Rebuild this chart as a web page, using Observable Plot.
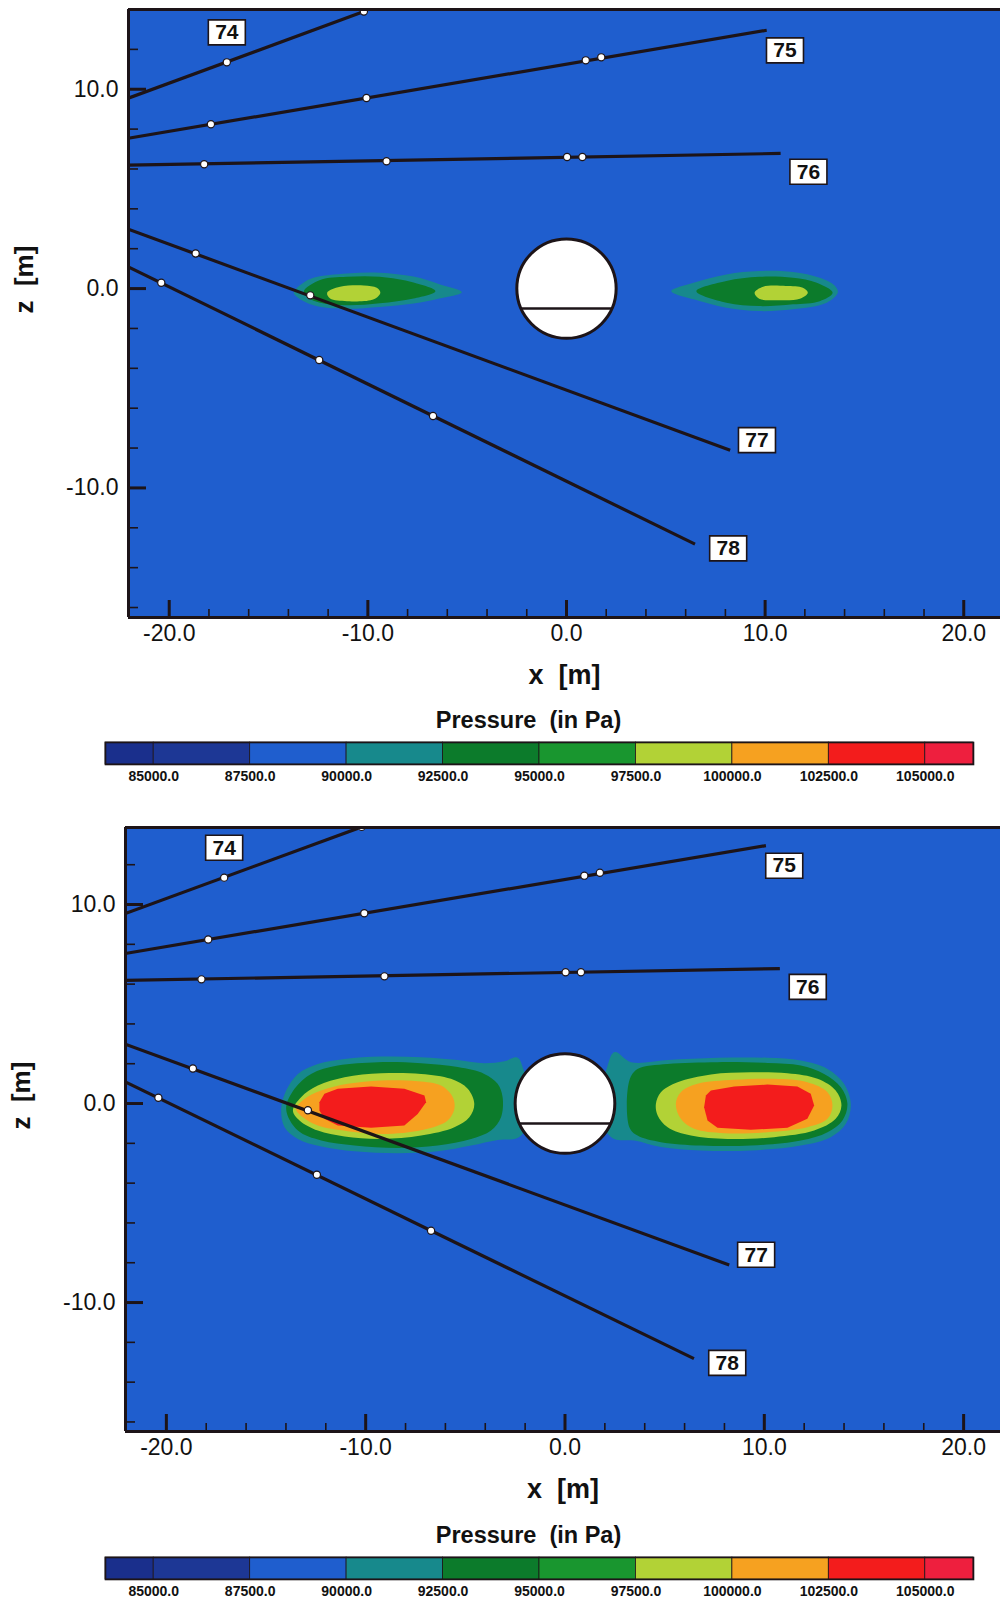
<!DOCTYPE html>
<html>
<head>
<meta charset="utf-8">
<script src="https://cdn.jsdelivr.net/npm/d3@7"></script>
<script src="https://cdn.jsdelivr.net/npm/@observablehq/plot@0.6"></script>
<style>
  html, body { margin: 0; padding: 0; background: #fff; }
  #page { position: relative; width: 1000px; height: 1602px; overflow: hidden; font-family: "Liberation Sans", Arial, sans-serif; }
  #page > div { position: absolute; left: 0; }
  svg { display: block; overflow: visible; }
</style>
</head>
<body>
<div id="page">
  <div id="p1" style="top:0px"></div>
  <div id="cb1" style="top:700px"></div>
  <div id="p2" style="top:818px"></div>
  <div id="cb2" style="top:1515px"></div>
</div>
<script>
// ---- pressure legend -------------------------------------------------------
const pressureLevels = [85000, 87500, 90000, 92500, 95000, 97500, 100000, 102500, 105000];
const levelColors = ["#1a2f8c", "#1d3795", "#1f5ece", "#17898c", "#0c7b2b", "#19962f", "#b2d236", "#f6a120", "#f31c1c", "#ee1f3e"];

// ---- axes (metres) ---------------------------------------------------------
const xDomain = [-22.05, 21.85];
const zDomainTop = [-16.5, 14.0];
const zDomainBottom = [-16.48, 13.87];
const xMajor = [-20, -10, 0, 10, 20];
const xMinor = [-18, -16, -14, -12, -8, -6, -4, -2, 2, 4, 6, 8, 12, 14, 16, 18];
const zMajor = [-10, 0, 10];
const zMinor = [-16, -14, -12, -8, -6, -4, -2, 2, 4, 6, 8, 12];

// ---- tunnel cross-section --------------------------------------------------
const tunnelCentre = [0, 0];
const tunnelRadius = 2.5;
const tunnelFloorZ = -1.0;

// ---- measuring lines 74–78 -------------------------------------------------
const probeIds = ["74", "75", "76", "77", "78"];
const probeX0 = [-22.06, -22.06, -22.06, -22.06, -22.06];
const probeZ0 = [9.55, 7.54, 6.19, 2.98, 1.09];
const probeX1 = [-10.2, 10.08, 10.78, 8.24, 6.47];
const probeZ1 = [13.9, 12.96, 6.78, -8.11, -12.82];
const probeLabelX = [-17.1, 11.0, 12.18, 9.59, 8.14];
const probeLabelZ = [12.85, 11.95, 5.86, -7.6, -13.03];
const gaugePoints = [
  [-17.1, 11.35], [-10.2, 13.9],
  [-17.9, 8.24], [-10.07, 9.56], [0.97, 11.45], [1.75, 11.6],
  [-18.24, 6.24], [-9.06, 6.39], [0.03, 6.6], [0.8, 6.6],
  [-18.67, 1.76], [-12.9, -0.34],
  [-20.4, 0.29], [-12.45, -3.58], [-6.72, -6.39]
];

// ---- pressure regions, upper snapshot --------------------------------------
const topTealL = [[-13.73,-0.21],[-13.3,0.25],[-12.7,0.55],[-11.05,0.76],[-9.4,0.8],[-7.7,0.6],[-6.4,0.22],[-5.27,-0.18],[-6.4,-0.5],[-7.7,-0.75],[-9.4,-0.92],[-11.05,-1.01],[-12.5,-0.9],[-13.3,-0.6]];
const topGreenL = [[-13.22,-0.13],[-12.4,0.43],[-11.05,0.59],[-9.4,0.59],[-7.7,0.3],[-6.6,-0.13],[-7.7,-0.5],[-9.4,-0.74],[-11.05,-0.84],[-12.4,-0.71],[-13.0,-0.46]];
const topYellowL = [[-12.05,-0.21],[-11.4,0.09],[-10.2,0.16],[-9.55,0.04],[-9.37,-0.21],[-9.7,-0.54],[-11.05,-0.63],[-11.9,-0.5]];
const topTealR = [[5.28,-0.13],[6.4,0.29],[8.05,0.71],[9.7,0.88],[11.4,0.83],[12.75,0.54],[13.5,0.15],[13.66,-0.2],[13.1,-0.71],[11.4,-1.04],[9.7,-1.13],[8.05,-0.96],[6.4,-0.54]];
const topGreenR = [[6.54,-0.13],[8.05,0.38],[9.7,0.59],[11.4,0.54],[12.6,0.29],[13.4,-0.21],[12.75,-0.63],[11.4,-0.79],[9.7,-0.88],[8.05,-0.71]];
const topYellowR = [[9.47,-0.21],[9.9,0.09],[11.05,0.13],[11.9,0.04],[12.15,-0.21],[11.75,-0.51],[10.55,-0.58],[9.7,-0.51]];

// ---- pressure regions, lower snapshot --------------------------------------
const botTeal = [[-14.24,-0.27],[-13.99,0.65],[-13.4,1.49],[-12.4,1.99],[-11.06,2.24],[-9.23,2.36],[-7.22,2.33],[-5.38,2.19],[-4.05,2.03],[-3.04,2.13],[-2.38,2.3],[-1.8,1.2],[0,0.5],[1.8,1.2],[2.47,2.58],[3.31,2.08],[5.15,2.19],[7.65,2.3],[10.16,2.3],[11.83,2.16],[13.17,1.74],[14.0,0.99],[14.34,-0.02],[14.09,-1.02],[13.33,-1.69],[11.83,-2.11],[9.32,-2.36],[6.82,-2.36],[4.81,-2.19],[3.48,-1.86],[2.47,-1.78],[1.8,-1.2],[0,-0.5],[-1.8,-1.2],[-2.38,-1.73],[-3.38,-1.83],[-4.71,-2.11],[-6.39,-2.4],[-8.39,-2.5],[-10.56,-2.4],[-12.23,-2.16],[-13.4,-1.78],[-14.07,-1.19]];
const botGreenL = [[-13.99,-0.27],[-13.57,0.74],[-12.74,1.49],[-11.4,1.91],[-9.39,2.08],[-7.22,2.03],[-5.38,1.83],[-4.05,1.49],[-3.38,0.99],[-3.13,0.32],[-3.21,-0.69],[-3.71,-1.36],[-4.71,-1.78],[-6.39,-2.11],[-8.39,-2.23],[-10.56,-2.11],[-12.23,-1.86],[-13.4,-1.36]];
const botYellowL = [[-13.65,-0.35],[-13.24,0.32],[-12.4,0.9],[-11.06,1.32],[-9.23,1.52],[-7.22,1.49],[-5.72,1.24],[-4.88,0.74],[-4.55,-0.02],[-4.8,-0.69],[-5.55,-1.19],[-7.22,-1.61],[-9.23,-1.78],[-11.06,-1.66],[-12.4,-1.36],[-13.32,-0.85]];
const botOrangeL = [[-13.49,-0.27],[-13.07,0.23],[-12.23,0.65],[-10.9,0.99],[-9.23,1.16],[-7.39,1.12],[-6.22,0.9],[-5.63,0.32],[-5.55,-0.27],[-5.89,-0.85],[-6.89,-1.27],[-8.89,-1.53],[-10.9,-1.39],[-12.4,-1.11],[-13.15,-0.69]];
const botRedL = [[-12.32,0.07],[-12.07,0.49],[-11.4,0.74],[-9.73,0.85],[-8.06,0.74],[-7.05,0.4],[-6.97,0.07],[-7.39,-0.52],[-8.06,-1.11],[-9.73,-1.22],[-11.4,-1.11],[-12.07,-0.77],[-12.32,-0.35]];
const botGreenR = [[3.23,1.16],[3.64,1.74],[5.15,1.99],[7.65,2.08],[10.16,2.04],[11.83,1.91],[13.0,1.49],[13.84,0.82],[14.17,-0.02],[13.92,-0.85],[13.17,-1.44],[11.83,-1.86],[9.32,-2.11],[6.82,-2.11],[4.81,-1.94],[3.64,-1.61],[3.23,-1.19]];
const botYellowR = [[4.56,-0.02],[4.81,0.57],[5.65,1.07],[7.32,1.46],[9.32,1.57],[11.16,1.52],[12.67,1.24],[13.58,0.65],[13.87,-0.1],[13.58,-0.77],[12.5,-1.36],[10.49,-1.69],[8.15,-1.78],[6.32,-1.61],[5.15,-1.19],[4.65,-0.6]];
const botOrangeR = [[5.56,-0.02],[5.81,0.57],[6.65,0.99],[8.49,1.19],[10.49,1.24],[12.16,1.07],[13.17,0.57],[13.42,-0.1],[13.17,-0.77],[12.16,-1.19],[10.16,-1.44],[7.99,-1.49],[6.48,-1.27],[5.81,-0.77]];
const botRedR = [[7.07,0.4],[7.32,0.65],[8.49,0.85],[10.16,0.95],[11.66,0.85],[12.33,0.49],[12.5,-0.1],[12.16,-0.77],[11.16,-1.22],[9.32,-1.32],[7.65,-1.22],[7.15,-0.85],[6.98,-0.19]];

// ---- drawing ---------------------------------------------------------------
const INK = "#1d1418";
const FONT = "Liberation Sans, Arial, Helvetica, sans-serif";

// level index into levelColors for each region
const topRegions = [
  {level: 3, points: topTealL}, {level: 4, points: topGreenL}, {level: 6, points: topYellowL},
  {level: 3, points: topTealR}, {level: 4, points: topGreenR}, {level: 6, points: topYellowR}
];
const bottomRegions = [
  {level: 3, points: botTeal},
  {level: 4, points: botGreenL}, {level: 6, points: botYellowL}, {level: 7, points: botOrangeL}, {level: 8, points: botRedL, curve: "linear-closed"},
  {level: 4, points: botGreenR}, {level: 6, points: botYellowR}, {level: 7, points: botOrangeR}, {level: 8, points: botRedR, curve: "linear-closed"}
];

// white box behind the line numbers
const labelBox = {draw(context) { context.rect(-18.5, -12.5, 37, 25); }};

function panel({regions, zDomain, frameH, marginLeft}) {
  const width = 1000, marginTop = 9, marginBottom = 73, marginRight = 0;
  const frameW = width - marginLeft - marginRight;
  const pxPerM = frameW / (xDomain[1] - xDomain[0]);
  const probes = probeIds.map((id, i) => ({id, x0: probeX0[i], z0: probeZ0[i], x1: probeX1[i], z1: probeZ1[i], lx: probeLabelX[i], lz: probeLabelZ[i]}));
  const halfChord = Math.sqrt(tunnelRadius ** 2 - tunnelFloorZ ** 2);

  return Plot.plot({
    width, height: marginTop + frameH + marginBottom,
    marginTop, marginBottom, marginLeft, marginRight,
    style: {fontFamily: FONT, color: "#111", background: "transparent"},
    x: {domain: xDomain, axis: null},
    y: {domain: zDomain, axis: null},
    marks: [
      Plot.frame({fill: levelColors[2], stroke: null}),
      ...regions.map(r => Plot.line(r.points, {
        x: d => d[0], y: d => d[1], fill: levelColors[r.level], stroke: "none",
        curve: r.curve ?? "catmull-rom-closed", clip: true
      })),
      Plot.dot([tunnelCentre], {x: d => d[0], y: d => d[1], r: tunnelRadius * pxPerM, fill: "white", stroke: INK, strokeWidth: 3}),
      Plot.link([tunnelFloorZ], {x1: -halfChord, x2: halfChord, y1: d => d, y2: d => d, stroke: INK, strokeWidth: 2.5}),
      Plot.link(probes, {x1: "x0", y1: "z0", x2: "x1", y2: "z1", stroke: INK, strokeWidth: 3.2, clip: true}),
      Plot.dot(gaugePoints, {x: d => d[0], y: d => d[1], r: 3.6, fill: "white", stroke: INK, strokeWidth: 1.2, clip: true}),
      Plot.dot(probes, {x: "lx", y: "lz", symbol: labelBox, fill: "white", stroke: INK, strokeWidth: 1.6}),
      Plot.text(probes, {x: "lx", y: "lz", text: "id", fontSize: 21, fontWeight: "bold", fill: "#111"}),
      // inward ticks
      Plot.ruleX(xMajor, {x: d => d, insetTop: frameH - 17, stroke: INK, strokeWidth: 3}),
      Plot.ruleX(xMinor, {x: d => d, insetTop: frameH - 8, stroke: INK, strokeWidth: 1.6}),
      Plot.ruleY(zMajor, {y: d => d, insetRight: frameW - 18, stroke: INK, strokeWidth: 3}),
      Plot.ruleY(zMinor, {y: d => d, insetRight: frameW - 10, stroke: INK, strokeWidth: 1.6}),
      // frame on left, top and bottom
      Plot.ruleX([xDomain[0]], {x: d => d, stroke: INK, strokeWidth: 3}),
      Plot.ruleY(zDomain, {y: d => d, stroke: INK, strokeWidth: 3}),
      // tick labels and axis titles
      Plot.text(xMajor, {x: d => d, frameAnchor: "bottom", dy: 16, text: d => d.toFixed(1), fontSize: 23, lineAnchor: "middle", fill: "#111"}),
      Plot.text(zMajor, {y: d => d, frameAnchor: "left", dx: -10, textAnchor: "end", text: d => d.toFixed(1), fontSize: 23, lineAnchor: "middle", fill: "#111"}),
      Plot.text(["x\u00a0\u00a0[m]"], {text: d => d, frameAnchor: "bottom", dy: 58, lineAnchor: "middle", fontSize: 27, fontWeight: "bold", fill: "#111"}),
      Plot.text(["z\u00a0\u00a0[m]"], {text: d => d, frameAnchor: "left", dx: -104, rotate: -90, lineAnchor: "middle", fontSize: 26, fontWeight: "bold", fill: "#111"})
    ]
  });
}

function colorbar() {
  const step = pressureLevels[1] - pressureLevels[0];
  const edges = [pressureLevels[0] - step / 2, ...pressureLevels, pressureLevels[pressureLevels.length - 1] + step / 2];
  const bins = levelColors.map((color, i) => ({lo: edges[i], hi: edges[i + 1], color}));
  return Plot.plot({
    width: 1000, height: 42 + 22 + 22,
    marginTop: 42, marginBottom: 22, marginLeft: 105, marginRight: 27,
    style: {fontFamily: FONT, color: "#111", background: "transparent"},
    x: {domain: [edges[0], edges[edges.length - 1]], axis: null},
    color: {type: "identity"},
    marks: [
      Plot.rect(bins, {x1: "lo", x2: "hi", fill: d => d.color, stroke: INK, strokeWidth: 0.8}),
      Plot.frame({stroke: INK, strokeWidth: 1.6}),
      Plot.text(["Pressure\u00a0 (in Pa)"], {text: d => d, frameAnchor: "top", dy: -22, dx: -11, lineAnchor: "middle", fontSize: 23.5, fontWeight: "bold", fill: "#111"}),
      Plot.text(pressureLevels, {x: d => d, frameAnchor: "bottom", dy: 12, lineAnchor: "middle", text: d => d.toFixed(1), fontSize: 14, fontWeight: "bold", fill: "#111"})
    ]
  });
}

document.getElementById("p1").append(panel({regions: topRegions, zDomain: zDomainTop, frameH: 608, marginLeft: 128}));
document.getElementById("cb1").append(colorbar());
document.getElementById("p2").append(panel({regions: bottomRegions, zDomain: zDomainBottom, frameH: 604, marginLeft: 125}));
document.getElementById("cb2").append(colorbar());
</script>
</body>
</html>
